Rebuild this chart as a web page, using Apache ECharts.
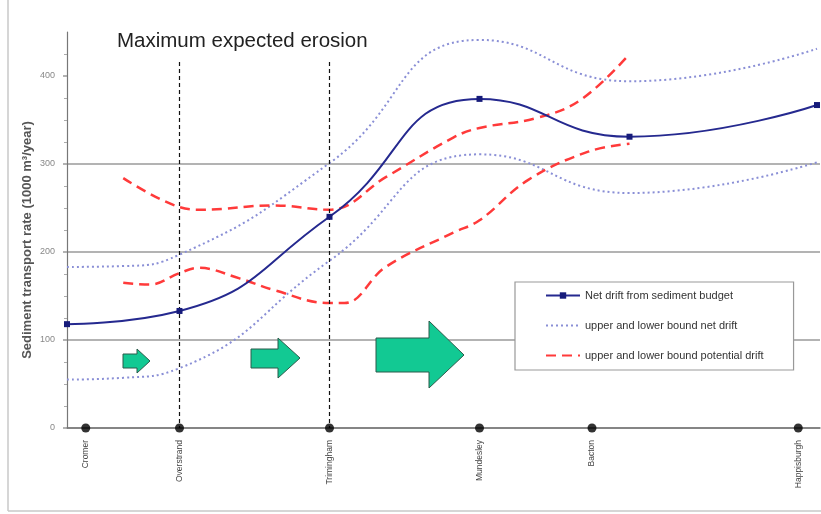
<!DOCTYPE html>
<html><head><meta charset="utf-8">
<script src="https://cdn.jsdelivr.net/npm/echarts@6/dist/echarts.min.js"></script>
<style>html,body{margin:0;padding:0;background:#fff}#c{width:821px;height:514px}</style>
</head><body><div id="c"></div>
<script>
// Locations along the coast (chainage, km-like units)
const locNames = ['Cromer','Overstrand','Trimingham','Mundesley','Bacton','Happisburgh'];
const locPos = [0.5, 3, 7, 11, 14, 19.5];
const locZero = [0, 0, 0, 0, 0, 0];
const erosionLocs = [3, 7];

// Net drift from sediment budget
const netX = [0, 3, 7, 11, 15, 20];
const netDrift = [118, 133, 240, 374, 331, 367];

// Upper / lower bound net drift
const boundX = [0, 1.5, 3, 7, 11, 15, 20];
const upperNet = [183, 184, 197, 301, 441, 394, 431];
const lowerNet = [55, 57, 68, 190, 311, 267, 302];

// Upper / lower bound potential drift
const upperPotX = [1.5, 3, 3.6, 5.5, 7, 8.5, 10.3, 11, 12.5, 13.7, 15];
const upperPot = [284, 251, 248, 253, 248, 285, 330, 341, 352, 373, 425];
const lowerPotX = [1.5, 2.2, 3, 3.5, 4.6, 5.5, 7, 7.4, 8.5, 10.3, 11, 12.3, 13.9, 15];
const lowerPot = [165, 163, 176, 182, 170, 157, 142, 142, 183, 222, 236, 282, 314, 323];

const yTicks = [0, 100, 200, 300, 400];

const pair = (xs, ys) => xs.map((x, i) => [x, ys[i]]);
const chart = echarts.init(document.getElementById('c'));
const FONT = 'Liberation Sans, Arial, sans-serif';
const NET = 'Net drift from sediment budget';
const BNET = 'upper and lower bound net drift';
const BPOT = 'upper and lower bound potential drift';

const dotted = {color: '#8a8fd6', width: 2, type: [2, 3]};
const dashed = {color: '#ff3a3a', width: 2.5, type: [10, 6]};

const arrow = (pts) => ({
  type: 'polygon', z: 100,
  shape: {points: pts},
  style: {fill: '#12c993', stroke: '#2b5a4a', lineWidth: 1}
});

chart.setOption({
  animation: false,
  textStyle: {fontFamily: FONT},
  grid: {left: 67, right: 1, top: 32, bottom: 86},
  title: {
    text: 'Maximum expected erosion', left: 112, top: 26,
    textStyle: {fontSize: 20.5, fontWeight: 'normal', color: '#222', fontFamily: FONT}
  },
  legend: {
    orient: 'vertical', left: 515, top: 282,
    padding: [8, 30, 9, 30],
    itemWidth: 34, itemHeight: 8, itemGap: 19,
    backgroundColor: '#fff', borderColor: '#999', borderWidth: 1.2,
    textStyle: {fontSize: 11, color: '#333', fontFamily: FONT},
    data: [
      {name: NET},
      {name: BNET, itemStyle: {opacity: 0}},
      {name: BPOT, itemStyle: {opacity: 0}}
    ]
  },
  xAxis: {
    type: 'value', min: 0, max: 20.08,
    splitLine: {show: false},
    axisLine: {lineStyle: {color: '#777', width: 1.5}},
    axisTick: {show: false},
    axisLabel: {
      customValues: locPos,
      formatter: v => locNames[locPos.indexOf(v)],
      rotate: 90, fontSize: 8.5, color: '#444', margin: 12
    }
  },
  yAxis: {
    type: 'value', min: 0, max: 450, interval: 100,
    name: 'Sediment transport rate (1000 m³/year)',
    nameLocation: 'middle', nameGap: 33, nameMoveOverlap: false,
    nameTextStyle: {fontWeight: 'bold', fontSize: 13, color: '#555', fontFamily: FONT, padding: [0, 20, 0, 0]},
    axisLine: {show: true, lineStyle: {color: '#777', width: 1.2}},
    axisTick: {show: true, length: 4, customValues: yTicks, lineStyle: {color: '#999', width: 1.5}},
    minorTick: {show: true, splitNumber: 4, length: 3, lineStyle: {color: '#aaa'}},
    axisLabel: {customValues: yTicks, fontSize: 9, color: '#888', margin: 12},
    splitLine: {showMaxLine: false, lineStyle: {color: '#9a9a9a', width: 1.5}}
  },
  series: [
    {name: BNET, type: 'line', data: pair(boundX, upperNet), smooth: 0.5, symbol: 'none', lineStyle: dotted, itemStyle: {color: dotted.color}, z: 3},
    {name: BNET, type: 'line', data: pair(boundX, lowerNet), smooth: 0.5, symbol: 'none', lineStyle: dotted, itemStyle: {color: dotted.color}, z: 3},
    {name: BPOT, type: 'line', data: pair(upperPotX, upperPot), smooth: 0.4, symbol: 'none', lineStyle: dashed, itemStyle: {color: dashed.color}, z: 4},
    {name: BPOT, type: 'line', data: pair(lowerPotX, lowerPot), smooth: 0.4, symbol: 'none', lineStyle: dashed, itemStyle: {color: dashed.color}, z: 4},
    {name: NET, type: 'line', data: pair(netX, netDrift), smooth: 0.5, symbol: 'rect', symbolSize: 6,
      lineStyle: {color: '#25298f', width: 2}, itemStyle: {color: '#161b7a'}, z: 5},
    {name: 'locations', type: 'scatter', data: pair(locPos, locZero), symbolSize: 9, clip: false,
      itemStyle: {color: '#000'}, z: 6,
      markLine: {
        silent: true, symbol: ['none', 'none'], label: {show: false},
        lineStyle: {color: '#111', type: [4, 3], width: 1.2},
        data: erosionLocs.map(x => [{coord: [x, 416]}, {coord: [x, 0]}])
      }
    }
  ],
  graphic: [
    {type: 'line', shape: {x1: 8, y1: 0, x2: 8, y2: 511}, style: {stroke: '#c8c8c8', lineWidth: 1.5}},
    {type: 'line', shape: {x1: 8, y1: 511, x2: 821, y2: 511}, style: {stroke: '#c8c8c8', lineWidth: 1.5}},
    arrow([[123,354],[137,354],[137,349],[150,361],[137,373],[137,368],[123,368]]),
    arrow([[251,349],[278,349],[278,338],[300,358],[278,378],[278,368],[251,368]]),
    arrow([[376,338],[429,338],[429,321],[464,355],[429,388],[429,372],[376,372]])
  ]
});
</script>
</body></html>
